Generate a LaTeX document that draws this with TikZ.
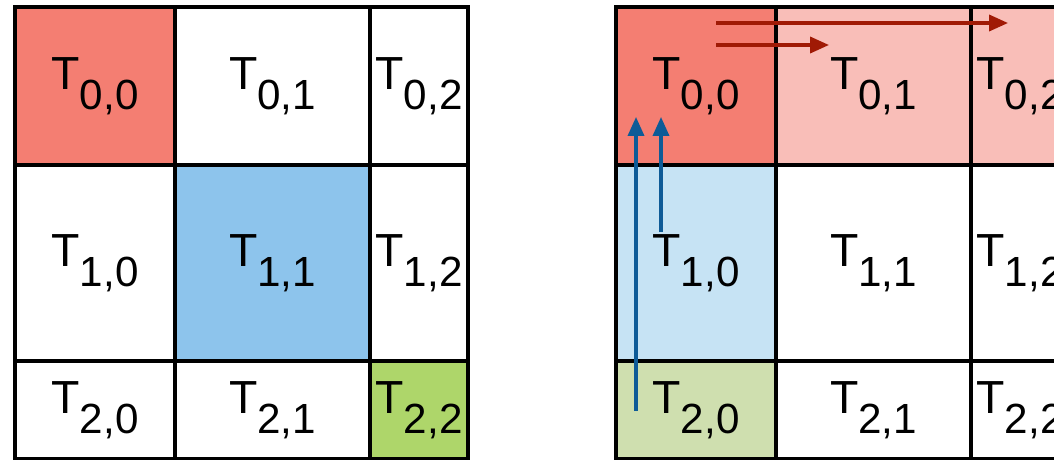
\documentclass[tikz,border=0pt]{standalone}
\usepackage{fontspec}
\setmainfont{Liberation Sans}
\usetikzlibrary{arrows.meta,positioning}
\definecolor{tilered}{HTML}{F47E72}
\definecolor{tilepink}{HTML}{F9BEB8}
\definecolor{tileblue}{HTML}{8DC4EC}
\definecolor{tilesky}{HTML}{C6E3F4}
\definecolor{tilegreen}{HTML}{AED66A}
\definecolor{tilesage}{HTML}{CFDFAF}
\definecolor{arrred}{HTML}{A01A05}
\definecolor{arrblue}{HTML}{0E5B97}
\newcommand{\tile}[2]{T\raisebox{-14pt}{\fontsize{30}{30}\selectfont #1,#2}}
\tikzset{
  cell/.style={draw, line width=2.4pt, inner sep=0pt, outer sep=0pt, fill=white,
               font=\fontsize{33}{36}\selectfont},
  wa/.style={minimum width=4cm},
  wb/.style={minimum width=4.875cm},
  wc/.style={minimum width=2.45cm},
  ha/.style={minimum height=3.95cm},
  hb/.style={minimum height=4.9cm},
  hc/.style={minimum height=2.45cm},
  redarr/.style={-{Triangle[length=13.5pt,width=11.5pt]}, line width=2.2pt, draw=arrred, fill=arrred},
  bluearr/.style={-{Triangle[length=13.5pt,width=11.5pt]}, line width=2.2pt, draw=arrblue, fill=arrblue},
}
\begin{document}
\begin{tikzpicture}[x=0.025cm, y=-0.025cm]
    \useasboundingbox (0,0) rectangle (1054,460);
    \clip (0,0) rectangle (1054,460);
    % left grid
    \node[cell, wa, ha, fill=tilered] (L00) at (95,86) {\tile{0}{0}};
    \node[cell, wb, ha] (L01) at (272.5,86) {\tile{0}{1}};
    \node[cell, wc, ha] (L02) at (419,86) {\tile{0}{2}};
    \node[cell, wa, hb] (L10) at (95,263) {\tile{1}{0}};
    \node[cell, wb, hb, fill=tileblue] (L11) at (272.5,263) {\tile{1}{1}};
    \node[cell, wc, hb] (L12) at (419,263) {\tile{1}{2}};
    \node[cell, wa, hc] (L20) at (95,410) {\tile{2}{0}};
    \node[cell, wb, hc] (L21) at (272.5,410) {\tile{2}{1}};
    \node[cell, wc, hc, fill=tilegreen] (L22) at (419,410) {\tile{2}{2}};
    % right grid
    \node[cell, wa, ha, fill=tilered] (R00) at (696,86) {\tile{0}{0}};
    \node[cell, wb, ha, fill=tilepink] (R01) at (873.5,86) {\tile{0}{1}};
    \node[cell, wc, ha, fill=tilepink] (R02) at (1020,86) {\tile{0}{2}};
    \node[cell, wa, hb, fill=tilesky] (R10) at (696,263) {\tile{1}{0}};
    \node[cell, wb, hb] (R11) at (873.5,263) {\tile{1}{1}};
    \node[cell, wc, hb] (R12) at (1020,263) {\tile{1}{2}};
    \node[cell, wa, hc, fill=tilesage] (R20) at (696,410) {\tile{2}{0}};
    \node[cell, wb, hc] (R21) at (873.5,410) {\tile{2}{1}};
    \node[cell, wc, hc] (R22) at (1020,410) {\tile{2}{2}};
    % arrows
    \coordinate (rowA) at (716,23);  \coordinate (rowAend) at (1008,23);
    \coordinate (rowB) at (716,45);  \coordinate (rowBend) at (829,45);
    \coordinate (colA) at (636,411); \coordinate (colAend) at (636,117);
    \coordinate (colB) at (661,232); \coordinate (colBend) at (661,117);
    \draw[redarr] (rowA) -- (rowAend);
    \draw[redarr] (rowB) -- (rowBend);
    \draw[bluearr] (colA) -- (colAend);
    \draw[bluearr] (colB) -- (colBend);
  \end{tikzpicture}
\end{document}
